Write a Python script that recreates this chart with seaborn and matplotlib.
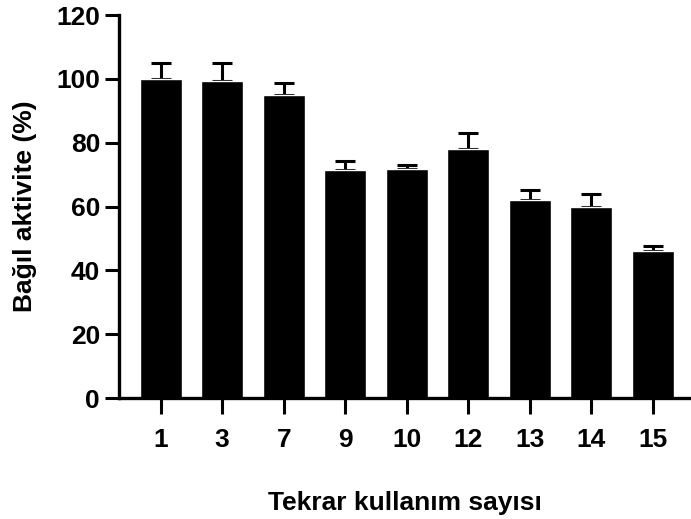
import numpy as np
import pandas as pd
import seaborn as sns
import matplotlib
matplotlib.use("Agg")
import matplotlib.pyplot as plt

# values
kullanim = ["1", "3", "7", "9", "10", "12", "13", "14", "15"]
aktivite = [100.0, 99.2, 94.8, 71.5, 71.8, 78.0, 62.0, 59.8, 46.0]
hata = [4.9, 5.7, 4.0, 2.7, 1.2, 5.2, 3.2, 4.2, 1.8]

sns.set_style("ticks")
plt.rcParams['font.family'] = ['Liberation Sans', 'DejaVu Sans']
plt.rcParams['font.weight'] = 'bold'
plt.rcParams['text.color'] = 'black'
plt.rcParams['axes.labelcolor'] = 'black'
plt.rcParams['xtick.color'] = 'black'
plt.rcParams['ytick.color'] = 'black'
plt.rcParams['axes.edgecolor'] = 'black'

df = pd.DataFrame({"kullanim": kullanim, "aktivite": aktivite})

fig = plt.figure(figsize=(6.91, 5.19), dpi=100)
ax = fig.add_axes([0.172, 0.233, 0.828, 0.738])

sns.barplot(data=df, x="kullanim", y="aktivite", color="black",
            width=0.68, saturation=1, ax=ax, zorder=2)

# only upper error bars, like the original (lower cap hidden behind bar)
xs = [p.get_x() + p.get_width() / 2 for p in ax.patches]
ax.errorbar(xs, aktivite, yerr=[np.zeros(len(hata)), hata], fmt="none",
            ecolor="black", elinewidth=2.2, capsize=7.5, capthick=2.2, zorder=1)

ax.set_ylim(0, 120)
ax.set_yticks([0, 20, 40, 60, 80, 100, 120])
ax.set_xlim(-0.68, 8.62)

sns.despine(ax=ax)
for s in ["left", "bottom"]:
    ax.spines[s].set_linewidth(2.4)
ax.tick_params(axis="y", length=10, width=2.2, pad=3.5, labelsize=19)
ax.tick_params(axis="x", length=11.5, width=2.2, pad=10, labelsize=19)

ax.set_xlabel("Tekrar kullanım sayısı", fontsize=19, fontweight="bold", labelpad=28)
ax.set_ylabel("Bağıl aktivite (%)", fontsize=19, fontweight="bold", labelpad=14)

plt.savefig("out.png", dpi=100)
